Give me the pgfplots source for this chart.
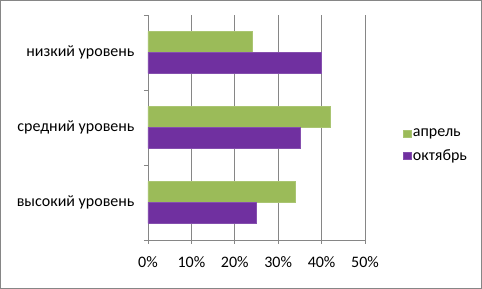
\documentclass[border=0pt]{standalone}
\usepackage{fontspec}
\setmainfont{Carlito}
\usepackage{pgfplots}
\pgfplotsset{compat=1.18}
\definecolor{cgreen}{HTML}{9BBB59}
\definecolor{cpurple}{HTML}{7030A0}
\definecolor{cgrid}{HTML}{868686}
\newcommand{\bigf}{\fontsize{16}{19}\selectfont}
\begin{document}
\begin{tikzpicture}[font=\bigf]
\useasboundingbox (0,0) rectangle (482pt,289pt);
\draw[cgrid, line width=0.8pt] (0.5pt,0.5pt) rectangle (481.5pt,288.5pt);
\begin{axis}[
  at={(148pt,49pt)}, anchor=south west,
  scale only axis, width=217pt, height=225pt,
  xmin=0, xmax=50, ymin=-0.5, ymax=2.5,
  xtick={0,10,20,30,40,50},
  xticklabels={0\%,10\%,20\%,30\%,40\%,50\%},
  xmajorgrids, grid style={cgrid, line width=0.75pt},
  axis x line*=bottom, axis y line*=left,
  axis line style={cgrid, line width=0.75pt},
  tick align=outside, major tick length=4pt,
  tick style={cgrid, line width=0.75pt},
  ytick={-0.5,0.5,1.5,2.5}, yticklabels={},
  extra y ticks={0,1,2},
  extra y tick labels={высокий уровень, средний уровень, низкий уровень},
  extra y tick style={major tick length=0pt, yticklabel style={xshift=-10pt}},
  xticklabel style={yshift=-9pt},
  ticklabel style={text=black, font=\bigf},
  legend style={at={(rel axis cs:1.16,0.42)}, anchor=west, draw=none, fill=none,
    row sep=7pt, font=\bigf, nodes={font=\bigf}},
  legend cell align=left,
  legend image code/.code={\fill[#1] (0pt,-3.8pt) rectangle (7.6pt,3.8pt);},
]
\addplot[xbar, bar width=0.28, bar shift=0.14, fill=cgreen, draw=cgreen!85!white]
  coordinates {(34,0) (42,1) (24,2)};
\addplot[xbar, bar width=0.28, bar shift=-0.14, fill=cpurple, draw=cpurple!85!white]
  coordinates {(25,0) (35,1) (40,2)};
\legend{апрель, октябрь}
\end{axis}
\end{tikzpicture}
\end{document}
